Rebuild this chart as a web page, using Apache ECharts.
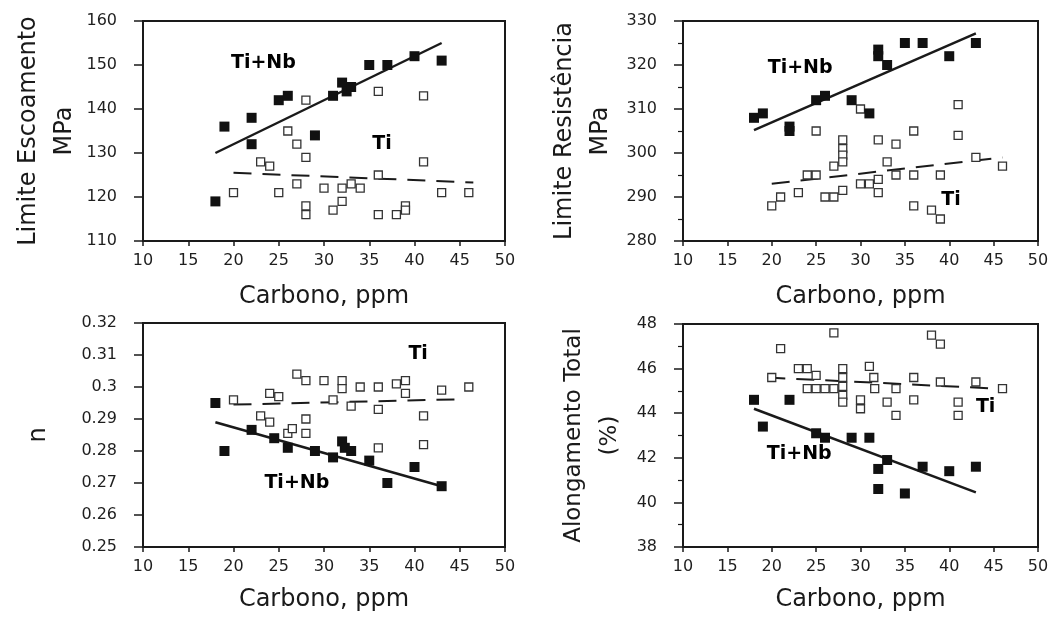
<!DOCTYPE html>
<html><head><meta charset="utf-8">
<script src="https://cdn.jsdelivr.net/npm/echarts@6/dist/echarts.min.js"></script>
<style>html,body{margin:0;padding:0;background:#fff}#c{width:1052px;height:619px}</style>
</head><body><div id="c"></div>
<script>
// x axis (all panels)
const carbonMin = 10, carbonMax = 50, carbonStep = 5;

// Panel 1: Limite Escoamento, MPa
const yieldTiNb = [[18,119],[19,136],[22,138],[22,132],[25,142],[26,143],[29,134],[31,143],[32,146],[32.5,144],[33,145],[35,150],[37,150],[40,152],[43,151]];
const yieldTi = [[20,121],[23,128],[24,127],[25,121],[26,135],[27,132],[28,142],[28,129],[27,123],[28,118],[28,116],[30,122],[31,117],[32,122],[32,119],[33,123],[34,122],[36,144],[36,125],[36,116],[38,116],[39,118],[39,117],[41,143],[41,128],[43,121],[46,121]];
const yieldTiNbFit = [[18,130],[43,155]];
const yieldTiFit = [[20,125.5],[46.5,123.3]];
const yieldLabels = [[23.3,150.5,'Ti+Nb'],[36.4,132,'Ti']];
const yieldTicks = [110, 160, 10];

// Panel 2: Limite Resistência, MPa
const utsTiNb = [[18,308],[19,309],[22,306],[22,305],[25,312],[26,313],[29,312],[31,309],[32,323.5],[32,322],[33,320],[35,325],[37,325],[40,322],[43,325]];
const utsTi = [[20,288],[21,290],[23,291],[24,295],[25,295],[25,305],[26,290],[27,290],[27,297],[28,291.5],[28,303],[28,301],[28,299.5],[28,298],[30,310],[30,293],[31,293],[32,303],[32,294],[32,291],[33,298],[34,302],[34,295],[36,305],[36,295],[36,288],[38,287],[39,285],[39,295],[41,311],[41,304],[43,299],[46,297]];
const utsTiNbFit = [[18,305.2],[43,327.2]];
const utsTiFit = [[20,293],[46,299]];
const utsLabels = [[23.2,319.3,'Ti+Nb'],[40.2,289.3,'Ti']];
const utsTicks = [280, 330, 10];

// Panel 3: n
const nTiNb = [[18,0.295],[19,0.280],[22,0.2866],[24.5,0.284],[26,0.281],[29,0.280],[31,0.278],[32,0.283],[32.3,0.281],[33,0.280],[35,0.277],[37,0.270],[40,0.275],[43,0.269]];
const nTi = [[20,0.296],[23,0.291],[24,0.298],[24,0.289],[25,0.297],[26,0.2855],[26.5,0.287],[27,0.304],[28,0.302],[28,0.290],[28,0.2855],[30,0.302],[31,0.296],[32,0.302],[32,0.2995],[33,0.294],[34,0.300],[36,0.300],[36,0.293],[36,0.281],[38,0.301],[39,0.302],[39,0.298],[41,0.291],[41,0.282],[43,0.299],[46,0.300]];
const nTiNbFit = [[18,0.289],[43,0.269]];
const nTiFit = [[20,0.2945],[45.5,0.2962]];
const nLabels = [[40.4,0.3103,'Ti'],[27,0.2699,'Ti+Nb']];
const nTicks = [0.25, 0.32, 0.01];

// Panel 4: Alongamento Total (%)
const elongTiNb = [[18,44.6],[19,43.4],[22,44.6],[25,43.1],[26,42.9],[29,42.9],[31,42.9],[32,41.5],[32,40.6],[33,41.9],[35,40.4],[37,41.6],[40,41.4],[43,41.6]];
const elongTi = [[20,45.6],[21,46.9],[23,46],[24,46],[24,45.1],[25,45.7],[25,45.1],[26,45.1],[27,47.6],[27,45.1],[28,46],[28,45.6],[28,45.2],[28,44.8],[28,44.5],[30,44.6],[30,44.2],[31,46.1],[31.5,45.6],[31.6,45.1],[33,44.5],[34,43.9],[34,45.1],[36,45.6],[36,44.6],[38,47.5],[39,47.1],[39,45.4],[41,44.5],[41,43.9],[43,45.4],[46,45.1]];
const elongTiNbFit = [[18,44.2],[43,40.45]];
const elongTiFit = [[19.5,45.6],[45.5,45.1]];
const elongLabels = [[44.1,44.27,'Ti'],[23.1,42.17,'Ti+Nb']];
const elongTicks = [38, 48, 2];

const xName = 'Carbono, ppm';
const yNames = ['Limite Escoamento\nMPa', 'Limite Resistência\nMPa', 'n', 'Alongamento Total\n(%)'];

const INK = '#1a1a1a';
const FONT = 'DejaVu Sans';

const panels = [
  {grid:{left:143, top:21, width:362, height:220}, ticks:yieldTicks, tiNb:yieldTiNb, ti:yieldTi, fitA:yieldTiNbFit, fitB:yieldTiFit, labels:yieldLabels, nameGap:60, minor:false, xGap:44, fs:24},
  {grid:{left:683, top:21, width:355, height:220}, ticks:utsTicks, tiNb:utsTiNb, ti:utsTi, fitA:utsTiNbFit, fitB:utsTiFit, labels:utsLabels, nameGap:64, minor:true, xGap:44, fs:24},
  {grid:{left:143, top:323, width:362, height:224}, ticks:nTicks, tiNb:nTiNb, ti:nTi, fitA:nTiNbFit, fitB:nTiFit, labels:nLabels, nameGap:86, minor:false, xGap:41, fs:24},
  {grid:{left:683, top:324, width:355, height:223}, ticks:elongTicks, tiNb:elongTiNb, ti:elongTi, fitA:elongTiNbFit, fitB:elongTiFit, labels:elongLabels, nameGap:55, minor:true, xGap:41, fs:23}
];

const option = {
  backgroundColor:'#fff',
  animation:false,
  textStyle:{fontFamily:FONT},
  grid:[], xAxis:[], yAxis:[], series:[]
};

panels.forEach((p, i) => {
  option.grid.push(Object.assign({show:true, borderColor:INK, borderWidth:2, backgroundColor:'transparent'}, p.grid));
  option.xAxis.push({
    gridIndex:i, type:'value', min:carbonMin, max:carbonMax, interval:carbonStep,
    name:xName, nameLocation:'middle', nameGap:p.xGap,
    nameTextStyle:{fontFamily:FONT, fontSize:24, color:INK},
    axisLine:{show:true, onZero:false, lineStyle:{color:INK, width:2}},
    axisTick:{show:true, inside:false, length:5, lineStyle:{color:INK, width:1.5}},
    axisLabel:{fontFamily:FONT, fontSize:16, color:'#1e1e1e', margin:12},
    splitLine:{show:false}
  });
  option.yAxis.push({
    gridIndex:i, type:'value', min:p.ticks[0], max:p.ticks[1], interval:p.ticks[2],
    name:yNames[i], nameLocation:'middle', nameGap:p.nameGap, nameRotate:90,
    nameTextStyle:{fontFamily:FONT, fontSize:p.fs, color:INK, lineHeight:36, align:'center'},
    axisLine:{show:true, onZero:false, lineStyle:{color:INK, width:2}},
    axisTick:{show:true, inside:false, length:9, lineStyle:{color:INK, width:1.5}},
    minorTick:{show:p.minor, splitNumber:2, length:5, lineStyle:{color:INK, width:1.2}},
    axisLabel:{fontFamily:FONT, fontSize:16, color:'#1e1e1e', margin:26},
    splitLine:{show:false}
  });
  option.series.push({
    type:'line', xAxisIndex:i, yAxisIndex:i, data:p.fitA, showSymbol:false, symbol:'none',
    lineStyle:{color:INK, width:2.5}, z:3, silent:true
  });
  option.series.push({
    type:'line', xAxisIndex:i, yAxisIndex:i, data:p.fitB, showSymbol:false, symbol:'none',
    lineStyle:{color:INK, width:2, type:[18,11]}, z:3, silent:true
  });
  option.series.push({
    type:'scatter', xAxisIndex:i, yAxisIndex:i, data:p.ti, symbol:'rect', symbolSize:8,
    itemStyle:{color:'#fff', borderColor:'#333', borderWidth:1.3, opacity:1}, z:4
  });
  option.series.push({
    type:'scatter', xAxisIndex:i, yAxisIndex:i, data:p.tiNb, symbol:'rect', symbolSize:10,
    itemStyle:{color:'#111', opacity:1}, z:5
  });
  option.series.push({
    type:'scatter', xAxisIndex:i, yAxisIndex:i, data:p.labels, symbolSize:1,
    itemStyle:{color:'#fff', opacity:1}, z:6, silent:true,
    label:{show:true, position:'inside', formatter:d => d.data[2], opacity:1,
      textBorderWidth:0, fontFamily:FONT, fontWeight:'bold', fontSize:19, color:'#000'}
  });
});

const chart = echarts.init(document.getElementById('c'), null, {renderer:'canvas'});
chart.setOption(option);
</script>
</body></html>
